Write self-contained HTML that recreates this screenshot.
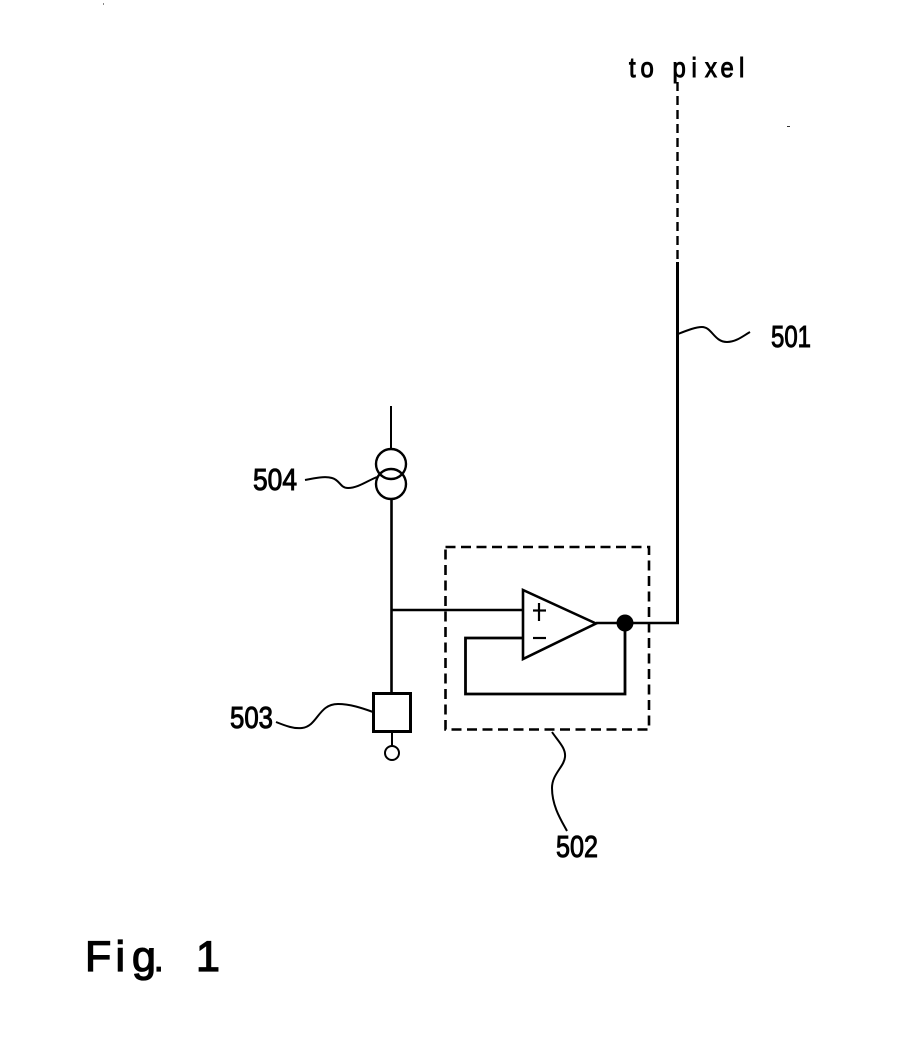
<!DOCTYPE html>
<html>
<head>
<meta charset="utf-8">
<style>
html,body{margin:0;padding:0;background:#fff;width:912px;height:1052px;overflow:hidden}
svg{display:block}
text{font-family:"Liberation Sans",sans-serif;fill:#000;stroke:#000;stroke-width:1}
</style>
</head>
<body>
<svg width="912" height="1052" viewBox="0 0 912 1052" xmlns="http://www.w3.org/2000/svg">
<g fill="none" stroke="#000" stroke-width="2.4">
  <!-- to pixel line -->
  <line x1="677.5" y1="82" x2="677.5" y2="262" stroke-width="2.4" stroke-dasharray="9 5"/>
  <line x1="677.5" y1="262" x2="677.5" y2="624" stroke-width="3"/>
  <line x1="596" y1="623" x2="679" y2="623"/>
  <!-- current source -->
  <line x1="391" y1="406" x2="391" y2="449" stroke-width="2"/>
  <circle cx="391" cy="464" r="15" stroke-width="2.4"/>
  <circle cx="391" cy="484" r="15" stroke-width="2.4"/>
  <line x1="391.500" y1="498" x2="391.500" y2="693" stroke-width="2.6"/>
  <!-- to op-amp -->
  <line x1="391" y1="610" x2="523" y2="610" stroke-width="2.6"/>
  <!-- 503 box -->
  <rect x="373.500" y="693.500" width="37" height="38" stroke-width="3"/>
  <line x1="392" y1="732" x2="392" y2="746" stroke-width="2"/>
  <circle cx="392" cy="753" r="7" stroke-width="2"/>
  <!-- dashed box -->
  <rect x="445.500" y="547" width="203.500" height="182.500" stroke-width="2.600" stroke-dasharray="10 5.500"/>
  <!-- op amp -->
  <path d="M523 590 L523 659 L596 623.500 Z" stroke-width="2.600"/>
  <line x1="533" y1="610.500" x2="546" y2="610.500" stroke-width="2.200"/>
  <line x1="539" y1="603" x2="539" y2="621" stroke-width="2.200"/>
  <line x1="533" y1="638" x2="546" y2="638" stroke-width="2.200"/>
  <!-- feedback -->
  <path d="M523 638 H465.500 V694 H625 V623" stroke-width="2.800"/>
  <!-- leaders -->
  <path d="M678 334 C688 330 696 327 702 327 C712 327 714 342 727 342 C736 342 743 336 750 332" stroke-width="2"/>
  <path d="M305 480 C315 478 325 476 332 478 C340 480 340 488 348 488 C358 488 367 481 377 477" stroke-width="2"/>
  <path d="M276 722 C286 726 294 729 302 728 C318 726 318 704 338 704 C350 704 362 708 373 712" stroke-width="2"/>
  <path d="M552 732 C558 741 566 748 565 757 C564 767 552 774 552 788 C552 806 561 820 567 831" stroke-width="2"/>
</g>
<circle cx="625" cy="623" r="8.500" fill="#000"/>
<rect x="787" y="126" width="3" height="1" fill="#333"/>
<rect x="103" y="3" width="1" height="2" fill="#888"/>

<text transform="translate(629,77) scale(.85,1)" font-size="28" x="0 13.500 32 51.200 73.500 89.400 107.600 129.400">to pixel</text>
<text x="771" y="347" font-size="31" textLength="40" lengthAdjust="spacingAndGlyphs">501</text>
<text x="556" y="857" font-size="31" textLength="42" lengthAdjust="spacingAndGlyphs">502</text>
<text x="230" y="728" font-size="31" textLength="43" lengthAdjust="spacingAndGlyphs">503</text>
<text x="253" y="490" font-size="31" textLength="44" lengthAdjust="spacingAndGlyphs">504</text>
<text y="971" font-size="43" style="stroke-width:1.300"><tspan x="85">F</tspan><tspan x="115.500">i</tspan><tspan x="132">g</tspan><tspan x="154" font-size="34">.</tspan><tspan x="196">1</tspan></text>
</svg>
</body>
</html>
